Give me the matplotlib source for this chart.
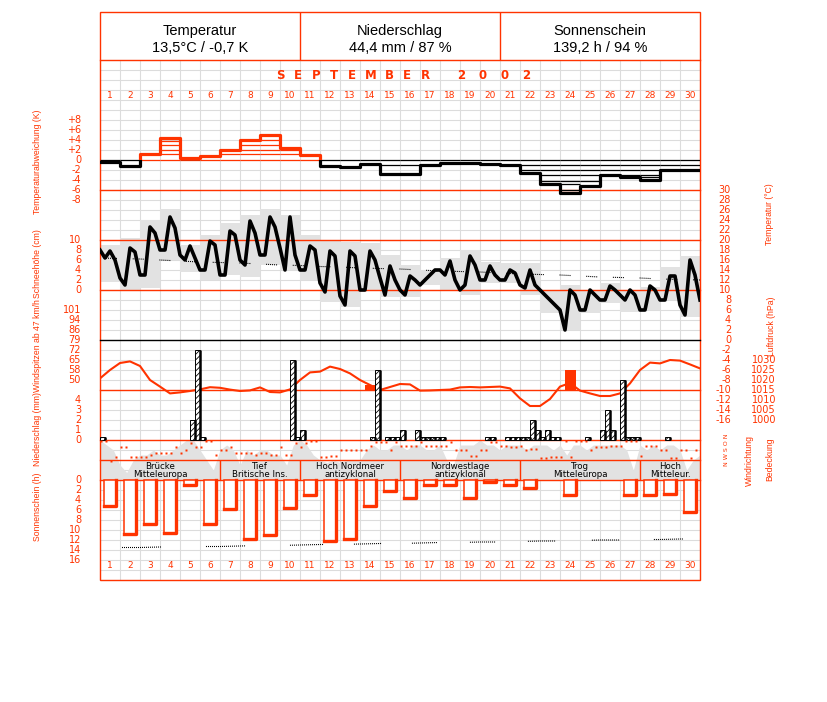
import numpy as np
import matplotlib
matplotlib.use('Agg')
import matplotlib.pyplot as plt
from matplotlib.patches import Rectangle

# ---------------- values ----------------
days = np.arange(1, 31)

headerTitle = ['Temperatur', 'Niederschlag', 'Sonnenschein']
headerValue = ['13,5°C / -0,7 K', '44,4 mm / 87 %', '139,2 h / 94 %']
monthTitle = 'SEPTEMBER 2002'

# daily deviation of mean temperature (K) and the inner step levels
tempDev = [-0.3, -1.2, 1.3, 4.5, 0.5, 0.8, 2.0, 4.0, 5.1, 2.5, 1.1, -1.2, -1.3, -0.7, -2.7,
 -2.7, -1.0, -0.5, -0.5, -0.7, -1.0, -2.5, -4.7, -6.5, -5.1, -3.0, -3.3, -4.0, -2.0, -2.0]
tempDevSteps = [[], [], [], [1.3, 2.0, 3.0, 3.9], [], [], [1.3], [1.3, 2.0, 3.0], [1.3, 2.0, 3.0, 4.0],
 [1.3, 2.0], [], [], [], [], [-1.0], [-1.0], [], [], [], [], [], [-1.0, -2.0],
 [-1.0, -2.0, -3.0, -4.1], [-1.0, -2.0, -3.0, -4.1, -4.7, -6.0], [-1.0, -2.0, -3.0, -4.1],
 [-1.0, -2.0], [-1.0, -2.0, -3.0], [-1.0, -2.0, -3.0, -3.3], [-1.0], [-1.0]]

# temperature (°C), four readings per day
tempObs = [18.0, 16.4, 17.8, 16.0, 12.4, 11.0, 18.4, 17.6, 13.0, 13.0, 22.6, 21.4,
 18.0, 18.0, 24.6, 22.4, 17.0, 16.0, 18.8, 16.4, 14.0, 14.0, 19.8, 19.0,
 13.0, 13.0, 21.8, 21.0, 16.0, 15.0, 23.8, 21.4, 17.0, 17.0, 24.6, 22.6,
 18.4, 14.0, 24.6, 17.0, 14.0, 14.0, 18.8, 18.0, 11.4, 9.6, 17.8, 16.8,
 8.8, 7.0, 17.8, 16.8, 10.0, 10.0, 17.8, 16.0, 12.4, 9.0, 14.8, 12.0,
 10.0, 9.0, 12.8, 12.0, 11.0, 12.0, 13.0, 14.0, 14.0, 13.0, 15.8, 12.0,
 10.0, 11.0, 16.8, 15.0, 12.0, 12.0, 14.8, 13.0, 12.0, 12.0, 14.0, 13.4,
 11.0, 10.4, 14.0, 11.0, 10.0, 9.0, 8.0, 7.0, 6.0, 2.0, 10.0, 9.0,
 6.0, 6.0, 10.0, 9.0, 8.0, 8.0, 10.8, 10.0, 9.0, 8.0, 10.0, 9.0,
 6.0, 6.0, 10.8, 10.0, 8.0, 8.0, 12.8, 12.8, 7.0, 5.0, 16.0, 13.0, 8.0]
tempMax = [19.0, 20.4, 24.0, 26.2, 19.0, 21.0, 23.4, 25.0, 26.2, 25.0, 21.0, 20.0, 19.6, 19.4, 17.0,
 15.0, 14.0, 16.4, 18.0, 15.6, 15.4, 15.4, 10.0, 11.0, 10.0, 11.4, 10.0, 10.6, 14.6, 16.8]
tempMin = [11.6, 10.0, 10.4, 16.0, 13.6, 12.0, 13.0, 12.6, 15.0, 14.0, 12.0, 7.6, 6.6, 10.0, 8.6,
 8.6, 11.0, 10.0, 9.0, 11.4, 11.4, 9.0, 5.4, 2.0, 5.4, 7.4, 5.6, 6.0, 8.0, 4.6]
tempNorm = [16.4, 16.3, 16.2, 16.0, 15.8, 15.6, 15.5, 15.4, 15.2, 15.0, 14.9, 14.7, 14.6, 14.4, 14.3,
 14.2, 14.0, 13.8, 13.7, 13.6, 13.4, 13.2, 13.1, 13.0, 12.8, 12.6, 12.5, 12.4, 12.2, 12.1, 12.0]

# air pressure (hPa), two readings per day
pressure = [1020.8, 1025.0, 1028.5, 1029.3, 1027.0, 1020.0, 1016.7, 1013.3, 1013.8, 1014.5,
 1015.3, 1016.4, 1016.1, 1015.2, 1014.5, 1014.8, 1016.3, 1014.0, 1013.8, 1015.3,
 1020.0, 1023.8, 1024.2, 1026.7, 1025.5, 1023.3, 1020.0, 1017.5, 1015.0, 1016.5,
 1018.0, 1017.8, 1014.7, 1014.8, 1015.0, 1015.2, 1016.3, 1016.5, 1016.3, 1016.5,
 1016.7, 1015.8, 1010.8, 1007.0, 1007.0, 1010.5, 1016.7, 1018.5, 1014.7, 1013.3,
 1012.0, 1012.0, 1013.3, 1018.3, 1025.0, 1028.7, 1028.3, 1030.0, 1029.7, 1027.8, 1025.8]

# precipitation (mm) per six hour slot (slot 0 = first quarter of day 1)
precipSlot = [0, 18, 19, 20, 38, 39, 40, 54, 55, 57, 58, 59, 60, 63, 64, 65, 66, 67, 68,
 77, 78, 81, 82, 83, 84, 85, 86, 87, 88, 89, 90, 91, 97, 100, 101, 102, 104, 105, 106, 107, 113]
precipMm = [0.3, 2.0, 9.0, 0.3, 8.0, 0.3, 1.0, 0.3, 7.0, 0.3, 0.3, 0.3, 1.0, 1.0, 0.3, 0.3, 0.3, 0.3, 0.3,
 0.3, 0.3, 0.3, 0.3, 0.3, 0.3, 0.3, 2.0, 1.0, 0.3, 1.0, 0.3, 0.3, 0.3, 1.0, 3.0, 1.0, 6.0, 0.3, 0.3, 0.3, 0.3]

# wind gusts (km/h)
gustBase = 43
gustDay = [14, 24]
gustKmh = [46.5, 57.5]

# sunshine (h) and astronomically possible sunshine
sunHours = [5.1, 10.7, 8.8, 10.5, 0.9, 8.8, 5.7, 11.7, 10.9, 5.5, 2.9, 12.2, 11.7, 5.2, 2.2,
 3.5, 0.9, 0.9, 3.5, 0.3, 0.9, 1.5, 0.0, 2.9, 0.0, 0.0, 2.9, 2.9, 2.8, 6.4]
sunPossible = [13.6, 13.5, 13.5, 13.4, 13.4, 13.3, 13.3, 13.2, 13.1, 13.1, 13.0, 12.9, 12.9, 12.8, 12.7,
 12.7, 12.6, 12.5, 12.5, 12.4, 12.4, 12.3, 12.2, 12.2, 12.1, 12.0, 12.0, 11.9, 11.9, 11.8, 11.8]

# cloud cover (octas), three readings per day
cloudCover = [8, 7, 6, 3, 1.5, 4, 5, 5, 6, 5, 5, 6, 7, 8, 8, 6, 4, 2, 6, 7, 6, 3, 6, 5, 6, 6, 5,
 5, 3, 7, 8, 7, 5, 4, 3.5, 4, 3.5, 4, 4, 4, 6, 7, 6, 6, 7, 7, 6, 7, 7, 6, 6, 7, 4, 3,
 7, 7, 7, 8, 7, 7, 6, 7, 7, 7, 6, 7, 7, 7, 6, 7, 5, 7, 7, 6, 7, 7, 7, 7, 7, 6, 2,
 7, 6, 7, 6, 7, 7, 6, 2, 4, 5]

# wind direction (degrees), four readings per day
windDir = [0, 0, 360, 290, 110, 110, 290, 290, 290, 290, 250, 220, 220, 220, 220, 110,
 220, 160, 40, 110, 110, 0, 0, 250, 160, 160, 110, 220, 220, 220, 220, 250,
 220, 220, 250, 250, 110, 250, 250, 40, 110, 40, 0, 0, 290, 290, 270, 270,
 160, 160, 160, 160, 160, 160, 90, 20, 20, 20, 160, 20, 90, 90, 90, 90,
 20, 90, 90, 90, 90, 90, 20, 160, 160, 160, 270, 270, 160, 160, 20, 20,
 90, 90, 110, 110, 90, 160, 140, 140, 310, 310, 290, 290, 290, 0, 290, 0,
 0, 0, 160, 110, 110, 110, 90, 90, 90, 0, 0, 0, 270, 90, 90, 90,
 160, 160, 310, 310, 160, 160, 310, 160]

# weather types
weatherFirst = [1, 7, 11, 16, 22, 28]
weatherLast = [6, 10, 15, 21, 27, 30]
weatherText = ['Brücke\nMitteleuropa', 'Tief\nBritische Ins.', 'Hoch Nordmeer\nantizyklonal',
 'Nordwestlage\nantizyklonal', 'Trog\nMitteleuropa', 'Hoch\nMitteleur.']

# ---------------- layout ----------------
W, H = 827, 702
X0, X1, Y0, Y1 = 100, 700, 12, 580
RED = '#ff3300'
GREY = '#e2e2e2'
GRID = '#dcdcdc'
PX = 0.72  # points per pixel
plt.rcParams['lines.scale_dashes'] = False
plt.rcParams['hatch.linewidth'] = 0.6

fig = plt.figure(figsize=(W / 100, H / 100), dpi=100)
fig.patch.set_facecolor('white')

def pixelAxes():
 ax = fig.add_axes([0, 0, 1, 1])
 ax.set_xlim(0, W)
 ax.set_ylim(H, 0)
 ax.set_axis_off()
 return ax

def overlay(ya, va, yb, vb):
 # axes over the frame: x in days, value va sits on pixel row ya and vb on yb
 ax = fig.add_axes([X0 / W, 1 - Y1 / H, (X1 - X0) / W, (Y1 - Y0) / H])
 k = (vb - va) / (yb - ya)
 ax.set_ylim(va + (Y1 - ya) * k, va + (Y0 - ya) * k)
 ax.set_xlim(0, 30)
 ax.set_axis_off()
 return ax

DOTS = [1 * PX, 1 * PX]

# grid
base = pixelAxes()
base.hlines(np.arange(60, Y1 + 1, 10), X0, X1, colors=GRID, lw=0.8)
base.vlines(np.arange(X0, X1 + 1, 20), 60, Y1, colors=GRID, lw=0.8)
base.add_patch(Rectangle((X0, 460), X1 - X0, 20, fc='white', ec='none'))

# grey fills
axCloud = overlay(480, 0, 440, 8)
axCloud.fill_between(np.arange(len(cloudCover)) / 3, 0, cloudCover, color=GREY, lw=0)
axBand = overlay(340, 0, 190, 30)
axBand.bar(days - 0.5, np.array(tempMax) - np.array(tempMin), bottom=tempMin, width=1, color=GREY, lw=0)

# frame, separators, texts
top = pixelAxes()
for y, c in ((60, RED), (190, RED), (240, RED), (290, RED), (340, 'black'), (390, RED), (440, RED), (460, RED), (480, RED)):
 top.plot([X0, X1], [y, y], color=c, lw=1.0)
top.add_patch(Rectangle((X0, Y0), X1 - X0, Y1 - Y0, fill=False, ec=RED, lw=1.0))
top.vlines([300, 500], Y0, 60, colors=RED, lw=1.0)
top.vlines([X0 + 20 * d for d in weatherLast[:-1]], 460, 480, colors=RED, lw=1.0)
for f, l, t in zip(weatherFirst, weatherLast, weatherText):
 top.text(X0 + 10 * (f - 1 + l), 470.5, t, ha='center', va='center', fontsize=6.2, linespacing=0.95, color='black')

for i in range(3):
 cx = X0 + 100 + 200 * i
 top.text(cx, 31, headerTitle[i], ha='center', va='center', fontsize=10.5, family='Liberation Sans')
 top.text(cx, 47.5, headerValue[i], ha='center', va='center', fontsize=10.5, family='Liberation Sans')

letterX = [280, 298, 316, 334, 352, 371, 389, 407, 425, None, 461, 483, 505, 526]
for ch, lx in zip(monthTitle, letterX):
 if lx is not None:
  top.text(lx, 75.5, ch, ha='center', va='center', fontsize=8.5, fontweight='bold', color=RED)

for d in days:
 for y in (96, 566):
  top.text(X0 + 20 * d - 10, y, str(d), ha='center', va='center', fontsize=6.5, color=RED)

tickStyle = dict(ha='right', va='center', fontsize=7, color=RED)
for lab, y in zip(['+8', '+6', '+4', '+2', '0', '-2', '-4', '-6', '-8'], range(120, 201, 10)):
 top.text(81, y, lab, **tickStyle)
for lab, y in zip(['10', '8', '6', '4', '2', '0'], range(240, 291, 10)):
 top.text(81, y, lab, **tickStyle)
for lab, y in zip(['101', '94', '86', '79', '72', '65', '58', '50'], range(310, 381, 10)):
 top.text(81, y, lab, **tickStyle)
for lab, y in zip(['4', '3', '2', '1', '0'], range(400, 441, 10)):
 top.text(81, y, lab, **tickStyle)
for lab, y in zip(range(0, 17, 2), range(480, 561, 10)):
 top.text(81, y, str(lab), **tickStyle)
for lab, y in zip(range(30, -17, -2), range(190, 421, 10)):
 top.text(731, y, str(lab), **tickStyle)
for lab, y in zip(range(1030, 999, -5), range(360, 421, 10)):
 top.text(776, y, str(lab), **tickStyle)
top.text(727, 450, 'N W S O N', rotation=90, ha='center', va='center', fontsize=4.5, color=RED)

sideStyle = dict(rotation=90, ha='center', va='center', fontsize=6.2, color=RED, family='Liberation Sans')
top.text(37, 162, 'Temperaturabweichung (K)', **sideStyle)
top.text(37, 264, 'Schneehöhe (cm)', **sideStyle)
top.text(37, 346, 'Windspitzen ab 47 km/h', **sideStyle)
top.text(37, 429, 'Niederschlag (mm)', **sideStyle)
top.text(37, 507, 'Sonnenschein (h)', **sideStyle)
top.text(770, 214, 'Temperatur (°C)', **sideStyle)
top.text(771, 326, 'Luftdruck (hPa)', **sideStyle)
top.text(749, 461, 'Windrichtung', **sideStyle)
top.text(770, 459, 'Bedeckung', **sideStyle)

# temperature deviation
axDev = overlay(160, 0, 120, 8)
axDev.hlines(np.zeros(len(days)), days - 1, days, colors=[RED if v > 0 else 'black' for v in tempDev], lw=0.9)
for d, lv in zip(days, tempDevSteps):
 if lv:
  axDev.hlines(lv, d - 1, d, colors=RED if lv[0] > 0 else 'black', lw=0.9)
devExt = np.append(tempDev, tempDev[-1])
for col, y0 in ((RED, 0), ('black', -20)):
 ln, = axDev.step(np.arange(31), devExt, where='post', color=col, lw=2.3)
 ln.set_clip_path(Rectangle((0, y0), 30, 20, transform=axDev.transData))

# temperature curve with norm
axT = overlay(340, 0, 190, 30)
axT.plot(np.arange(31), tempNorm, color='black', lw=0.8, linestyle=(20.7 * PX, DOTS * 6 + [0, 14.7 * PX]))
axT.plot(np.arange(len(tempObs)) / 4, tempObs, color='black', lw=2.6)

# wind gusts and pressure
axG = overlay(380, 50, 310, 101)
axG.bar(np.array(gustDay) - 0.5, np.array(gustKmh) - gustBase, bottom=gustBase, width=0.55, color=RED, lw=0)
axP = overlay(390, 1015, 360, 1030)
axP.plot(np.arange(len(pressure)) / 2, pressure, color=RED, lw=1.5)

# precipitation
axR = overlay(440, 0, 400, 4)
px0 = np.array(precipSlot) / 4
axR.bar(px0, precipMm, width=0.25, align='edge', fc='white', ec='black', hatch='//////', lw=0.7)
axR.vlines(px0 + 0.25, 0, precipMm, colors='black', lw=1.8)

# wind direction
axW = overlay(441, 0, 461, 360)
axW.plot(np.arange(len(windDir)) / 4 + 0.07, windDir, 's', ms=2.0, color=RED, mec='none')

# sunshine
axS = overlay(480, 0, 560, 16)
sun = np.array(sunHours)
has = sun > 0
axS.bar(days[has] - 0.5, sun[has], width=0.62, fc='white', ec=RED, lw=1.1)
for d, h in zip(days[has], sun[has]):
 axS.plot([d - 0.81, d - 0.19, d - 0.19], [h, h, 0], color=RED, lw=2.4)
# possible sunshine: dotted pieces only
sunPieces = [(1.03, 3.12), (5.25, 7.3), (9.43, 11.2), (12.63, 14.12), (15.55, 16.85),
 (18.45, 19.79), (21.35, 22.79), (24.55, 26.0), (27.65, 29.15)]
for a, b in sunPieces:
 ln, = axS.plot(np.arange(31), sunPossible, color='black', lw=0.8, linestyle=(0, DOTS))
 ln.set_clip_path(Rectangle((a, 0), b - a, 20, transform=axS.transData))

fig.savefig('out.png', dpi=100, facecolor='white')
